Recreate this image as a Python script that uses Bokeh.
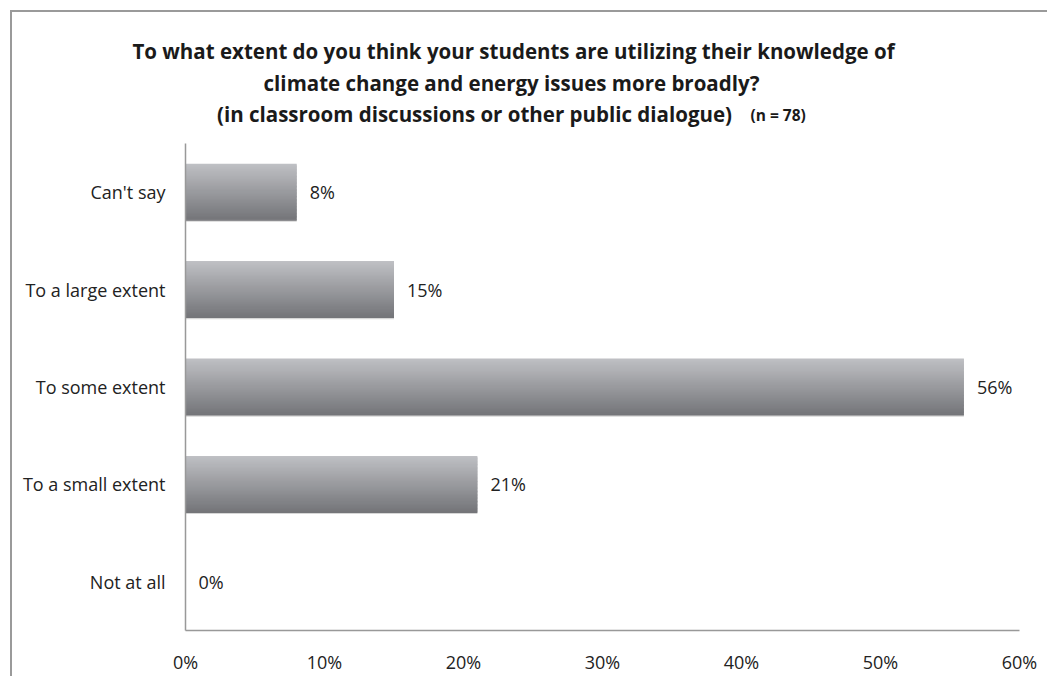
from bokeh.plotting import figure
from bokeh.models import (ColumnDataSource, FactorRange, Range1d, Label, FixedTicker)
from bokeh.transform import dodge
from bokeh.core.properties import value
from bokeh.embed import file_html
from bokeh.resources import INLINE

# ---- data ----
categories = ["Not at all", "To a small extent", "To some extent", "To a large extent", "Can't say"]
percent = [0, 21, 56, 15, 8]
value_labels = ["0%", "21%", "56%", "15%", "8%"]
x_ticks = [0, 10, 20, 30, 40, 50, 60]
x_tick_labels = ["0%", "10%", "20%", "30%", "40%", "50%", "60%"]
title_lines = [
    "To what extent do you think your students are utilizing their knowledge of",
    "climate change and energy issues more broadly?",
    "(in classroom discussions or other public dialogue)",
]
title_note = "(n = 78)"

FONT = "Open Sans"
W, H = 1047, 676

p = figure(width=W, height=H, output_backend="svg", toolbar_location=None,
           y_range=FactorRange(factors=categories, range_padding=0),
           x_range=Range1d(0, 60),
           min_border_left=185, min_border_right=28, min_border_top=143, min_border_bottom=43)
p.title = None
p.outline_line_color = None
p.xgrid.grid_line_color = None
p.ygrid.grid_line_color = None
p.background_fill_color = None
p.border_fill_color = None
p.styles = {
    "background-color": "white",
    "background-image": "linear-gradient(#9a9a9a,#9a9a9a), linear-gradient(#9a9a9a,#9a9a9a)",
    "background-position": "10px 10px, 10px 10px",
    "background-size": "2px 100%, 100% 2px",
    "background-repeat": "no-repeat, no-repeat",
}

src = ColumnDataSource(dict(cat=categories, val=percent, lab=value_labels))

bar_h = 0.585
# soft shadow
p.hbar(y=dodge("cat", -0.012, range=p.y_range), left=0, right="val", height=bar_h,
       source=src, fill_color="#d6d6d6", line_color=None)

# gradient bars built from thin slices
N = 40
c_top = (0xbf, 0xc0, 0xc4)
c_bot = (0x74, 0x75, 0x79)
for i in range(N):
    t = i / (N - 1)
    c = tuple(int(round(a + (b - a) * t)) for a, b in zip(c_top, c_bot))
    col = "#%02x%02x%02x" % c
    off = bar_h / 2 - (i + 0.5) * bar_h / N
    p.hbar(y=dodge("cat", off, range=p.y_range), left=0, right="val",
           height=bar_h / N * (1.0 if i in (0, N - 1) else 1.6), source=src,
           fill_color=col, line_color=None)

p.text(x="val", y="cat", text="lab", source=src, x_offset=13,
       text_align="left", text_baseline="middle", text_font=value(FONT),
       text_font_size="18px", text_color="#222222")

for ax in (p.xaxis[0], p.yaxis[0]):
    ax.axis_line_color = "#999999"
    ax.axis_line_width = 1.5
    ax.major_tick_line_color = None
    ax.minor_tick_line_color = None
    ax.major_tick_out = 0
    ax.major_tick_in = 0
    ax.major_label_text_font = FONT
    ax.major_label_text_font_size = "18px"
    ax.major_label_text_color = "#222222"
p.xaxis.ticker = FixedTicker(ticks=x_ticks)
p.xaxis.major_label_overrides = {t: l for t, l in zip(x_ticks, x_tick_labels)}
p.xaxis.major_label_standoff = 19
p.yaxis.major_label_standoff = 20

# title block (canvas units, in the area above the frame)
title_x = [513, 511, 474]
title_y = [50, 82, 113.5]
for txt, tx, ty in zip(title_lines, title_x, title_y):
    p.add_layout(Label(x=tx, y=ty, x_units="canvas", y_units="canvas", text=txt,
                       text_align="center", text_baseline="middle", text_font=FONT,
                       text_font_style="bold", text_font_size="20.5px",
                       text_color="#1a1a1a"), "above")

p.add_layout(Label(x=750, y=114, x_units="canvas", y_units="canvas", text=title_note,
                   text_align="left", text_baseline="middle", text_font=FONT,
                   text_font_style="bold", text_font_size="15.5px", text_color="#1a1a1a"),
             "above")

open("out.html", "w").write(file_html(p, INLINE))
